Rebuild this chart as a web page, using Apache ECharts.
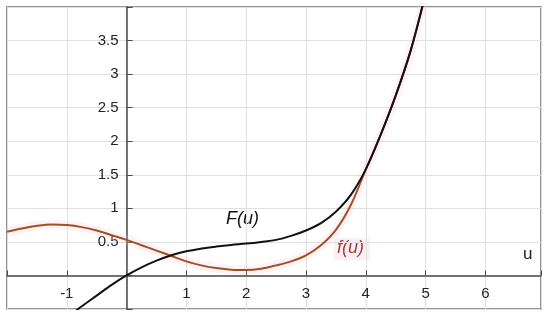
<!DOCTYPE html>
<html>
<head>
<meta charset="utf-8">
<script src="https://cdn.jsdelivr.net/npm/echarts@6/dist/echarts.min.js"></script>
<style>
html,body{margin:0;padding:0;background:#fff;}
#chart{width:550px;height:317px;}
</style>
</head>
<body>
<div id="chart"></div>
<script>
// u samples
const uF = [-1, -0.75, -0.5, -0.25, 0, 0.25, 0.5, 0.75, 1, 1.25, 1.5, 1.75, 2, 2.25, 2.5, 2.75, 3, 3.25, 3.5, 3.75, 4, 4.25, 4.5, 4.75, 5];
const FValues = [-0.63, -0.46, -0.30, -0.14, 0, 0.12, 0.22, 0.30, 0.36, 0.40, 0.43, 0.455, 0.475, 0.50, 0.53, 0.59, 0.67, 0.78, 0.95, 1.2, 1.58, 2.1, 2.68, 3.35, 4.2];
const uf = [-2, -1.75, -1.5, -1.25, -1, -0.75, -0.5, -0.25, 0, 0.25, 0.5, 0.75, 1, 1.25, 1.5, 1.75, 2, 2.25, 2.5, 2.75, 3, 3.25, 3.5, 3.75, 4, 4.25, 4.5, 4.75, 5];
const fValues = [0.65, 0.70, 0.74, 0.76, 0.75, 0.72, 0.67, 0.60, 0.53, 0.45, 0.37, 0.29, 0.21, 0.15, 0.11, 0.085, 0.08, 0.10, 0.15, 0.21, 0.30, 0.45, 0.68, 1.05, 1.58, 2.1, 2.68, 3.35, 4.2];
const xTicks = [-1, 1, 2, 3, 4, 5, 6];
const yTicks = [0.5, 1, 1.5, 2, 2.5, 3, 3.5];
const labelF = 'F(u)';
const labelf = 'f(u)';
const labelU = 'u';

const FData = uF.map((u, i) => [u, FValues[i]]);
const fData = uf.map((u, i) => [u, fValues[i]]);

const X_MIN = -2, X_MAX = 6.93, Y_MIN = -0.5, Y_MAX = 4;
const G = {left: 7, right: 9, top: 7, bottom: 8};
const W = 550 - G.left - G.right, H = 317 - G.top - G.bottom;
const xZeroOffset = (0 - X_MIN) / (X_MAX - X_MIN) * W;
const yZeroOffset = (0 - Y_MIN) / (Y_MAX - Y_MIN) * H;

const chart = echarts.init(document.getElementById('chart'));
const font = 'Liberation Sans, Arial, sans-serif';
chart.setOption({
  animation: false,
  grid: Object.assign({show: true, borderColor: '#707070', borderWidth: 1.5, containLabel: false, outerBoundsMode: 'none'}, G),
  xAxis: {
    type: 'value', min: X_MIN, max: X_MAX, interval: 1, position: 'bottom', offset: -yZeroOffset,
    axisLine: {onZero: false, lineStyle: {color: '#4a4a4a', width: 1.5}},
    axisTick: {inside: true, length: 5, lineStyle: {color: '#4a4a4a'}},
    axisLabel: {color: '#222', fontSize: 15, fontFamily: font, margin: 11,
      formatter: v => xTicks.indexOf(v) >= 0 ? String(v) : ''},
    splitLine: {show: true, lineStyle: {color: '#e0e0e0', width: 1}}
  },
  yAxis: {
    type: 'value', min: Y_MIN, max: Y_MAX, interval: 0.5, position: 'left', offset: -xZeroOffset,
    axisLine: {onZero: false, lineStyle: {color: '#4a4a4a', width: 1.5}},
    axisTick: {inside: true, length: 6, lineStyle: {color: '#4a4a4a'}},
    axisLabel: {color: '#222', fontSize: 15, fontFamily: font, margin: 8,
      formatter: v => yTicks.indexOf(v) >= 0 ? String(v) : ''},
    splitLine: {show: true, lineStyle: {color: '#e0e0e0', width: 1}}
  },
  series: [
    {type: 'line', data: fData, smooth: 0.35, showSymbol: false, clip: true, z: 1,
     lineStyle: {color: 'rgba(250,190,225,0.22)', width: 9}},
    {type: 'line', data: fData, smooth: 0.35, showSymbol: false, clip: true, z: 2,
     lineStyle: {color: '#a0521e', width: 2}},
    {type: 'line', data: FData, smooth: 0.35, showSymbol: false, clip: true, z: 3,
     lineStyle: {color: '#111', width: 2}}
  ],
  graphic: [
    {type: 'text', left: 226, top: 210, style: {text: labelF, fontSize: 18, fontStyle: 'italic', fontFamily: font, fill: '#111'}},
    {type: 'rect', left: 334, top: 238, shape: {width: 36, height: 22}, style: {fill: 'rgba(250,200,230,0.3)'}},
    {type: 'text', left: 337, top: 239, style: {text: labelf, fontSize: 18, fontStyle: 'italic', fontFamily: font, fill: '#a0402a'}},
    {type: 'text', left: 523, top: 246, style: {text: labelU, fontSize: 17, fontFamily: font, fill: '#222'}}
  ]
});
</script>
</body>
</html>
